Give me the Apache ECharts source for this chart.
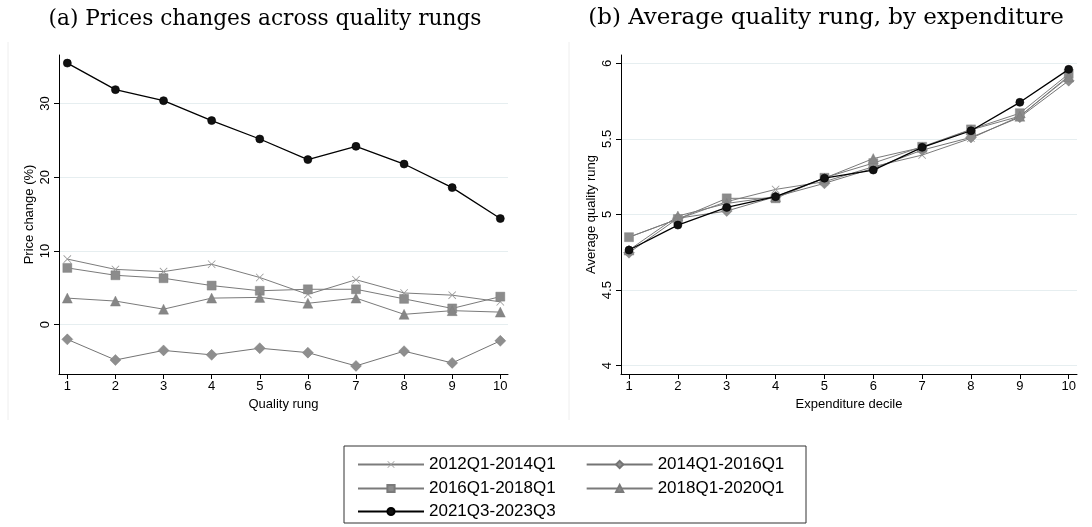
<!DOCTYPE html>
<html>
<head>
<meta charset="utf-8">
<script src="https://cdn.jsdelivr.net/npm/echarts@6/dist/echarts.min.js"></script>
<style>
  html, body { margin: 0; padding: 0; background: #fff; }
  #chart { width: 1092px; height: 527px; }
</style>
</head>
<body>
<div id="chart"></div>
<script>
// Price changes and average quality rung

var rungs = [1, 2, 3, 4, 5, 6, 7, 8, 9, 10];
var deciles = [1, 2, 3, 4, 5, 6, 7, 8, 9, 10];
var periods = ['2012Q1-2014Q1', '2014Q1-2016Q1', '2016Q1-2018Q1', '2018Q1-2020Q1', '2021Q3-2023Q3'];

// panel (a): price change (%) by quality rung
var price_1214 = [8.9, 7.5, 7.2, 8.2, 6.4, 4.1, 6.1, 4.3, 4.0, 3.1];
var price_1416 = [-2.0, -4.8, -3.5, -4.1, -3.2, -3.8, -5.6, -3.6, -5.2, -2.2];
var price_1618 = [7.7, 6.7, 6.3, 5.3, 4.6, 4.8, 4.8, 3.5, 2.2, 3.8];
var price_1820 = [3.6, 3.2, 2.1, 3.6, 3.7, 2.9, 3.6, 1.4, 1.9, 1.7];
var price_2123 = [35.5, 31.9, 30.4, 27.7, 25.2, 22.4, 24.2, 21.8, 18.6, 14.4];

// panel (b): average quality rung by expenditure decile
var rung_1214 = [4.85, 4.97, 5.085, 5.166, 5.217, 5.316, 5.393, 5.504, 5.65, 5.916];
var rung_1416 = [4.747, 4.975, 5.023, 5.118, 5.206, 5.305, 5.426, 5.51, 5.643, 5.885];
var rung_1618 = [4.85, 4.97, 5.107, 5.107, 5.243, 5.34, 5.448, 5.563, 5.67, 5.93];
var rung_1820 = [4.765, 4.99, 5.073, 5.118, 5.24, 5.37, 5.444, 5.56, 5.65, 5.91];
var rung_2123 = [4.765, 4.93, 5.047, 5.118, 5.24, 5.294, 5.444, 5.554, 5.742, 5.96];

var priceTicks = [0, 10, 20, 30];
var rungTicks = [4, 4.5, 5, 5.5, 6];

var crossPath = 'path://M0,0.7L0.7,0L5,4.3L9.3,0L10,0.7L5.7,5L10,9.3L9.3,10L5,5.7L0.7,10L0,9.3L4.3,5Z';
var styles = [
    { symbol: crossPath, size: 8, color: '#9a9a9a', line: '#7c7c7c', width: 1 },
    { symbol: 'diamond', size: 11, color: '#8e8e8e', line: '#747474', width: 1 },
    { symbol: 'rect', size: 9, color: '#8c8c8c', line: '#7a7a7a', width: 1 },
    { symbol: 'triangle', size: 10, color: '#868686', line: '#7a7a7a', width: 1 },
    { symbol: 'circle', size: 8, color: '#111111', line: '#000000', width: 1.3 }
];

function pairs(xs, ys) {
    return xs.map(function (x, i) { return [x, ys[i]]; });
}

function makeSeries(idx, xs, ys, panel) {
    var s = styles[idx];
    return {
        name: periods[idx],
        type: 'line',
        xAxisIndex: panel,
        yAxisIndex: panel,
        data: pairs(xs, ys),
        symbol: s.symbol,
        symbolSize: s.size,
        showAllSymbol: true,
        z: idx === 4 ? 5 : 2,
        itemStyle: { color: s.color, borderColor: s.line, borderWidth: idx === 0 ? 0 : (idx === 4 ? 0.6 : 0.4) },
        lineStyle: { color: s.line, width: s.width },
        emphasis: { disabled: true }
    };
}

var axisFont = { fontFamily: 'Liberation Sans', fontSize: 13, color: '#000' };

function xAxisFor(panel, name, min, max) {
    return {
        type: 'value', gridIndex: panel, min: min, max: max,
        name: name, nameLocation: 'middle', nameGap: 22,
        nameTextStyle: axisFont,
        axisLine: { onZero: false, lineStyle: { color: '#000', width: 1 } },
        axisTick: { customValues: panel === 0 ? rungs : deciles, length: 5, lineStyle: { color: '#000' } },
        axisLabel: Object.assign({ customValues: panel === 0 ? rungs : deciles, margin: 6 }, axisFont),
        splitLine: { show: false }
    };
}

function yAxisFor(panel, name, min, max, ticks) {
    return {
        type: 'value', gridIndex: panel, min: min, max: max,
        name: name, nameLocation: 'middle', nameGap: 23,
        nameTextStyle: axisFont,
        axisLine: { show: true, onZero: false, lineStyle: { color: '#000', width: 1 } },
        axisTick: { show: true, customValues: ticks, length: 5, lineStyle: { color: '#000' } },
        axisLabel: Object.assign({ customValues: ticks, rotate: 90, margin: 7 }, axisFont),
        splitLine: { show: true, lineStyle: { color: '#e6eef0', width: 1 } }
    };
}

var legendText = { fontFamily: 'Liberation Sans', fontSize: 17, color: '#000' };
function legendRow(names, top) {
    return {
        data: names, left: 352, top: top, orient: 'horizontal',
        itemWidth: 66, itemHeight: 9, itemGap: 30,
        textStyle: legendText, selectedMode: false
    };
}

function titleFont(size) {
    return { fontFamily: 'DejaVu Serif', fontWeight: 'normal', fontSize: size, color: '#000' };
}

var chart = echarts.init(document.getElementById('chart'));
chart.setOption({
    backgroundColor: '#fff',
    animation: false,
    title: [
        { text: '(a) Prices changes across quality rungs', left: 260, top: 3, textAlign: 'center', textStyle: titleFont(21.7) },
        { text: '(b) Average quality rung, by expenditure', left: 821, top: 2, textAlign: 'center', textStyle: titleFont(23) }
    ],
    grid: [
        { left: 59, top: 55, width: 449, height: 319 },
        { left: 621, top: 55, width: 456, height: 319 }
    ],
    xAxis: [
        xAxisFor(0, 'Quality rung', 0.827, 10.16),
        xAxisFor(1, 'Expenditure decile', 0.836, 10.17)
    ],
    yAxis: [
        yAxisFor(0, 'Price change (%)', -6.7, 36.6, priceTicks),
        yAxisFor(1, 'Average quality rung', 3.945, 6.055, rungTicks)
    ],
    legend: [
        legendRow([periods[0], periods[1]], 451),
        legendRow([periods[2], periods[3]], 475),
        legendRow([periods[4]], 498)
    ],
    graphic: [
        { type: 'rect', shape: { x: 344, y: 446, width: 462, height: 77 },
          style: { fill: 'none', stroke: '#333', lineWidth: 1 } },
        { type: 'line', shape: { x1: 8, y1: 42, x2: 8, y2: 420 }, style: { stroke: '#eeeeee', lineWidth: 1 } },
        { type: 'line', shape: { x1: 569, y1: 42, x2: 569, y2: 420 }, style: { stroke: '#eeeeee', lineWidth: 1 } }
    ],
    series: [
        makeSeries(0, rungs, price_1214, 0),
        makeSeries(1, rungs, price_1416, 0),
        makeSeries(2, rungs, price_1618, 0),
        makeSeries(3, rungs, price_1820, 0),
        makeSeries(4, rungs, price_2123, 0),
        makeSeries(0, deciles, rung_1214, 1),
        makeSeries(1, deciles, rung_1416, 1),
        makeSeries(2, deciles, rung_1618, 1),
        makeSeries(3, deciles, rung_1820, 1),
        makeSeries(4, deciles, rung_2123, 1)
    ]
});
</script>
</body>
</html>
